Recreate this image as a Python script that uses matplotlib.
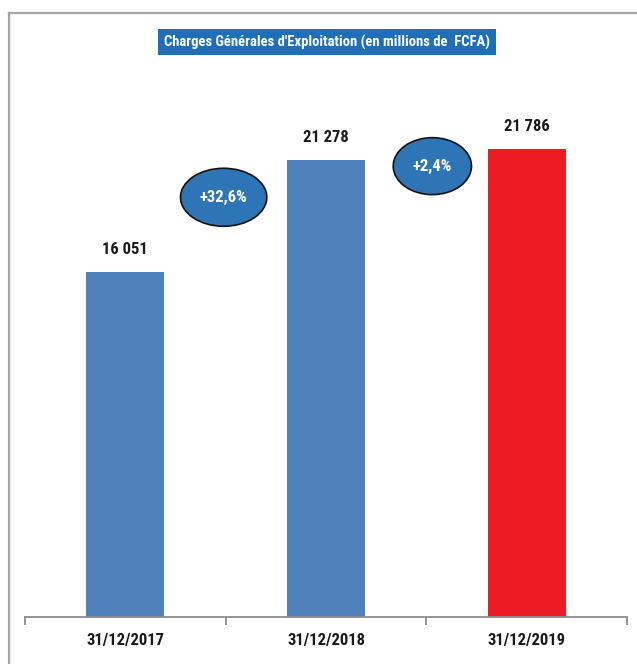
import matplotlib
matplotlib.use("Agg")
import matplotlib.pyplot as plt
from matplotlib.patches import Ellipse
from matplotlib.lines import Line2D
from matplotlib.transforms import blended_transform_factory

plt.rcParams['font.family'] = ['Roboto Condensed', 'Archivo Narrow', 'DejaVu Sans']

# Data
categories = ["31/12/2017", "31/12/2018", "31/12/2019"]
values = [16051, 21278, 21786]
value_labels = ["16 051", "21 278", "21 786"]
bar_colors = ["#4F81BD", "#4F81BD", "#ED1C24"]
growth_labels = ["+32,6%", "+2,4%"]
title = "Charges Générales d'Exploitation (en millions de  FCFA)"

W, H = 637, 664
fig = plt.figure(figsize=(W / 100, H / 100), dpi=100)
fig.patch.set_facecolor("white")

# Outer frame (left and top edges)
frame_kw = dict(color="#A6A6A6", lw=1.6, transform=fig.transFigure)
fig.add_artist(Line2D([9 / W, 9 / W], [0, 1 - 13 / H], **frame_kw))
fig.add_artist(Line2D([9 / W, 1], [1 - 13 / H, 1 - 13 / H], **frame_kw))

ax = fig.add_axes([25 / W, (H - 617) / H, 602 / W, 537 / H])
ax.set_xlim(-0.5, 2.5)
ax.set_ylim(0, 25000)

x = list(range(len(categories)))
bars = ax.bar(x, values, width=0.39, color=bar_colors, zorder=2)

for xi, v, lab in zip(x, values, value_labels):
    ax.annotate(lab, (xi, v), xytext=(0, 16.5), textcoords="offset points",
                ha="center", va="center", fontsize=12, fontweight="bold",
                color="#1a1a1a")

# Axes styling
for s in ["top", "right", "left"]:
    ax.spines[s].set_visible(False)
ax.spines["bottom"].set_color("#8C8C8C")
ax.spines["bottom"].set_linewidth(1.3)
ax.set_yticks([])
ax.set_xticks([-0.5, 0.5, 1.5, 2.5])
ax.set_xticklabels([])
ax.tick_params(axis="x", length=6, width=1.3, color="#8C8C8C", direction="out")

trans = blended_transform_factory(ax.transData, ax.transAxes)
for xi, c in zip(x, categories):
    ax.text(xi, -23 / 537, c, transform=trans, ha="center", va="center",
            fontsize=12, fontweight="bold", color="#1a1a1a")

# Growth bubbles between bars
bubbles = [(0.49, 19540, 0.43, 2700), (1.53, 20990, 0.39, 2650)]
for (bx, by, bw, bh), g in zip(bubbles, growth_labels):
    ax.add_patch(Ellipse((bx, by), bw, bh, facecolor="#2E75B6",
                         edgecolor="#111111", lw=1.2, zorder=3))
    ax.text(bx, by, g, ha="center", va="center", fontsize=12,
            fontweight="bold", color="white", zorder=4)

# Title banner
fig.text(327 / W, 1 - 42 / H, title, ha="center", va="center",
         fontsize=10.5, fontweight="bold", color="white",
         bbox=dict(boxstyle="square,pad=0.4", facecolor="#1F6FB8",
                   edgecolor="none"))

fig.savefig("out.png", dpi=100, facecolor="white")
